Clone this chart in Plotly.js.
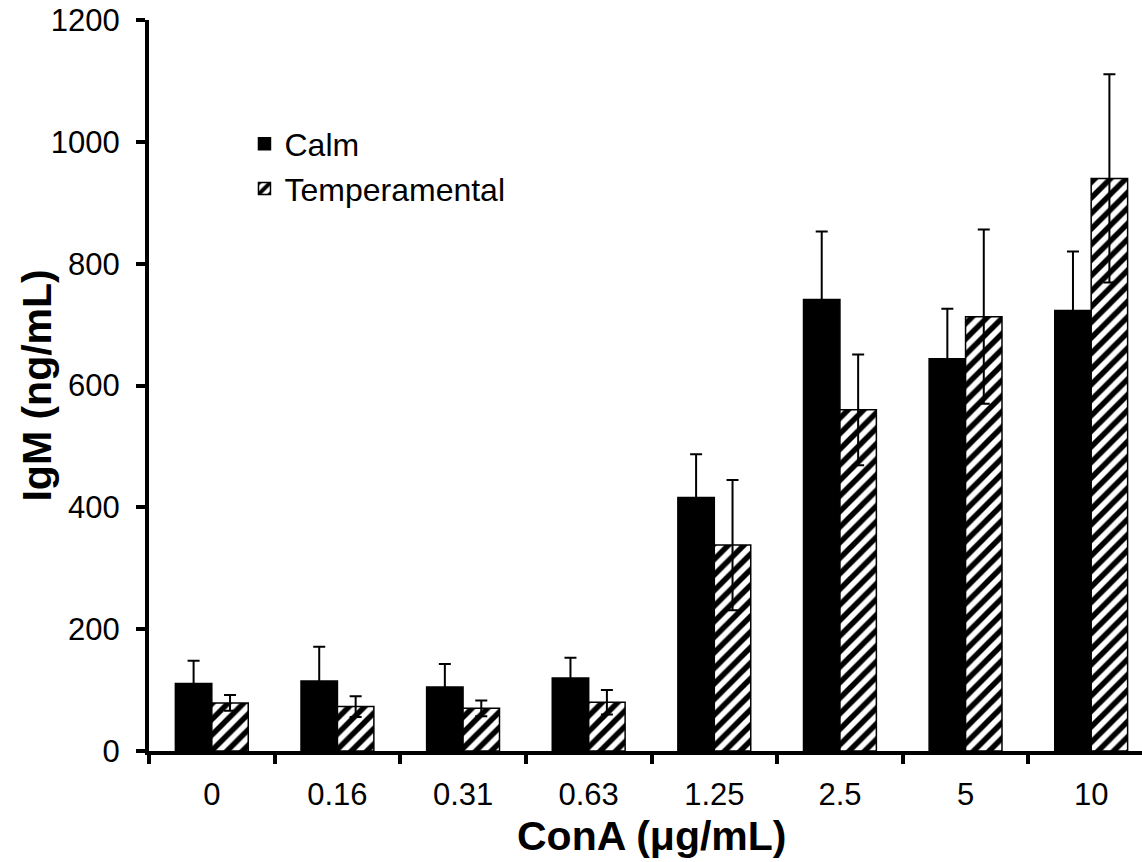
<!DOCTYPE html>
<html>
<head>
<meta charset="utf-8">
<script src="https://cdn.plot.ly/plotly-3.0.1.min.js"></script>
<style>
  html, body { margin: 0; padding: 0; overflow: hidden; background: #fff; }
  #chart { width: 1160px; height: 862px; }
</style>
</head>
<body>
<div id="chart"></div>
<script>
const categories = ['0', '0.16', '0.31', '0.63', '1.25', '2.5', '5', '10'];
const calmValues = [111, 115, 105, 120, 416, 741, 644, 723];
const calmErrors = [37, 56, 38, 33, 71, 112, 82, 97];
const tempValues = [79, 73, 70, 80, 338, 560, 713, 940];
const tempErrors = [13, 17, 13, 20, 107, 91, 143, 171];
const yTickValues = [0, 200, 400, 600, 800, 1000, 1200];
const xTitle = 'ConA (μg/mL)';
const yTitle = 'IgM (ng/mL)';

const FONT = 'Liberation Sans, Arial, sans-serif';
const titleFont = { family: FONT, size: 41, color: '#000000', weight: 'bold' };

const traces = [
  {
    type: 'bar',
    name: 'Calm',
    x: categories,
    y: calmValues,
    marker: { color: '#000000', line: { color: '#000000', width: 1.5 } },
    error_y: { type: 'data', array: calmErrors, visible: true, color: '#000000', thickness: 2, width: 6 }
  },
  {
    type: 'bar',
    name: 'Temperamental',
    x: categories,
    y: tempValues,
    marker: {
      color: '#ffffff',
      line: { color: '#000000', width: 1.5 },
      pattern: { shape: '/', fgcolor: '#000000', bgcolor: '#ffffff', size: 11, solidity: 0.5, fillmode: 'replace' }
    },
    error_y: { type: 'data', array: tempErrors, visible: true, color: '#000000', thickness: 2, width: 6 }
  }
];

const layout = {
  width: 1160,
  height: 862,
  margin: { l: 149, r: 6, t: 20, b: 111 },
  paper_bgcolor: '#ffffff',
  plot_bgcolor: '#ffffff',
  font: { family: FONT, size: 31, color: '#000000' },
  barmode: 'group',
  bargap: 0.42,
  bargroupgap: 0,
  showlegend: true,
  legend: {
    x: 0.095, y: 0.868, xanchor: 'left', yanchor: 'top',
    bgcolor: 'rgba(0,0,0,0)', borderwidth: 0,
    font: { family: FONT, size: 32, color: '#000000' },
    traceorder: 'normal'
  },
  xaxis: {
    type: 'category',
    showline: true, linecolor: '#000000', linewidth: 4,
    ticks: 'outside', tickson: 'boundaries', ticklen: 9, tickwidth: 4, tickcolor: '#000000',
    ticklabelstandoff: 13,
    showgrid: false, zeroline: false,
    tickfont: { family: FONT, size: 31, color: '#000000' }
  },
  yaxis: {
    range: [0, 1200],
    tickvals: yTickValues,
    showline: true, linecolor: '#000000', linewidth: 4,
    ticks: 'outside', ticklen: 9, tickwidth: 4, tickcolor: '#000000',
    ticklabelstandoff: 10,
    showgrid: false, zeroline: false,
    tickfont: { family: FONT, size: 31, color: '#000000' }
  },
  annotations: [
    { text: xTitle, xref: 'paper', yref: 'paper', x: 0.5, y: -0.1165, xanchor: 'center', yanchor: 'middle',
      showarrow: false, borderpad: 0, font: titleFont },
    { text: yTitle, xref: 'paper', yref: 'paper', x: -0.1124, y: 0.5, xanchor: 'center', yanchor: 'middle',
      textangle: -90, showarrow: false, borderpad: 0, font: titleFont }
  ]
};

Plotly.newPlot('chart', traces, layout, { displayModeBar: false, staticPlot: true });
</script>
</body>
</html>
